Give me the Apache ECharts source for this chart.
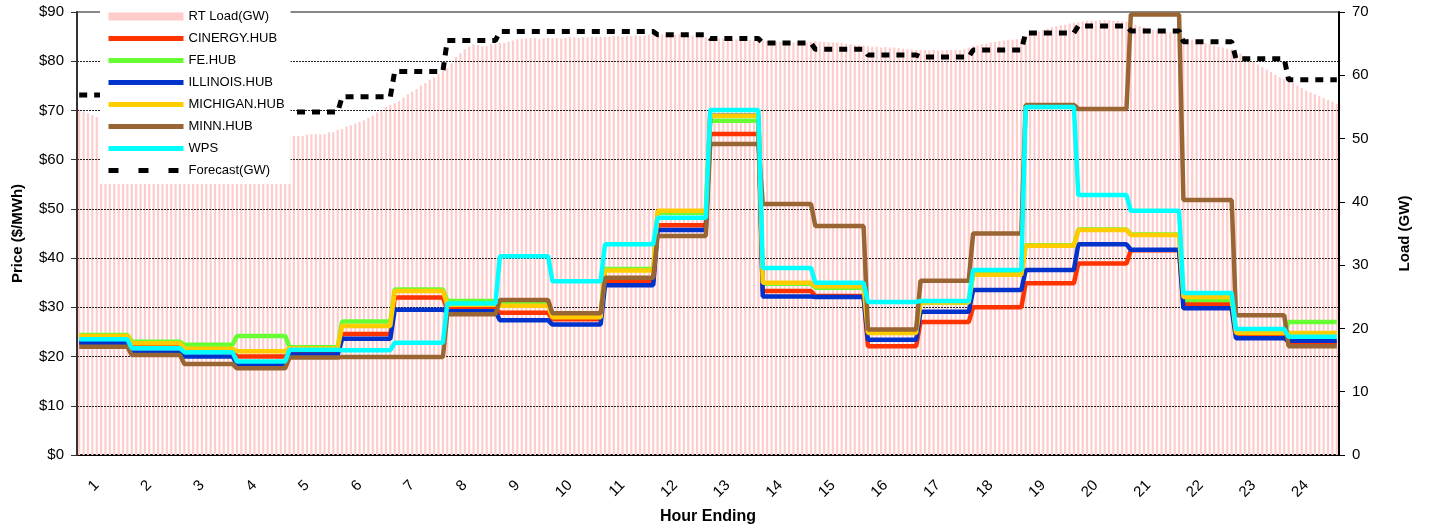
<!DOCTYPE html>
<html>
<head>
<meta charset="utf-8">
<script src="https://cdn.jsdelivr.net/npm/echarts@6/dist/echarts.min.js"></script>
<style>
html, body { margin: 0; padding: 0; background: #fff; }
#chart { width: 1429px; height: 524px; }
</style>
</head>
<body>
<div id="chart"></div>
<script>
// hour ending labels (1..24), each hour split into 12 five-minute intervals
var hours = [1, 2, 3, 4, 5, 6, 7, 8, 9, 10, 11, 12, 13, 14, 15, 16, 17, 18, 19, 20, 21, 22, 23, 24];

// hourly prices ($/MWh)
var cinergy  = [23.0, 22.0, 21.0, 20.0, 20.5, 24.6, 32.0, 29.6, 28.9, 27.6, 35.2, 46.7, 65.2, 33.3, 32.3, 22.1, 27.0, 30.0, 34.9, 38.9, 41.6, 30.7, 24.2, 22.8];
var feHub    = [24.4, 23.0, 22.4, 24.2, 21.9, 27.1, 33.6, 31.3, 30.9, 28.6, 37.8, 49.2, 67.9, 34.8, 34.0, 24.9, 31.0, 37.0, 42.6, 45.8, 44.8, 31.5, 25.0, 27.0];
var illinois = [22.8, 20.8, 20.0, 18.5, 20.4, 23.6, 29.5, 29.2, 27.4, 26.5, 34.5, 45.7, 68.9, 32.2, 32.1, 23.4, 29.1, 33.5, 37.6, 42.8, 41.7, 29.8, 23.7, 23.2];
var michigan = [24.2, 22.7, 21.6, 21.1, 21.7, 26.2, 33.3, 30.5, 30.3, 28.0, 37.5, 49.6, 68.9, 35.0, 34.3, 24.8, 31.0, 36.6, 42.5, 45.7, 44.7, 32.1, 24.8, 24.8];
var minnHub  = [22.0, 20.3, 18.5, 17.6, 19.8, 19.9, 19.9, 28.6, 31.5, 28.8, 36.0, 44.5, 63.2, 51.0, 46.5, 25.5, 35.4, 45.0, 71.1, 70.3, 89.5, 51.8, 28.4, 22.1];
var wps      = [23.5, 21.7, 20.9, 19.0, 21.4, 21.3, 22.8, 30.8, 40.4, 35.3, 42.8, 48.2, 70.1, 38.0, 35.0, 31.1, 31.3, 37.6, 70.7, 52.8, 49.6, 32.9, 25.6, 24.0];

// hourly load forecast (GW)
var forecast = [56.9, 56.0, 55.2, 54.6, 54.2, 56.6, 60.6, 65.5, 66.9, 66.9, 66.9, 66.4, 65.8, 65.1, 64.1, 63.2, 62.9, 64.0, 66.7, 67.8, 67.0, 65.3, 62.6, 59.3];

// real-time load, five-minute intervals (GW)
var rtLoad = [
  54.6, 54.3, 54.0, 53.7, 53.4, 53.1, 52.8, 52.6, 52.4, 52.2, 52.0, 51.8,
  51.6, 51.5, 51.4, 51.3, 51.2, 51.1, 51.0, 50.9, 50.9, 50.8, 50.8, 50.7,
  50.7, 50.6, 50.6, 50.5, 50.5, 50.4, 50.4, 50.4, 50.3, 50.3, 50.3, 50.2,
  50.2, 50.2, 50.1, 50.1, 50.1, 50.1, 50.1, 50.2, 50.2, 50.2, 50.2, 50.3,
  50.3, 50.4, 50.4, 50.4, 50.6, 50.7, 50.7, 50.7, 50.7, 51.0, 51.0, 51.4,
  51.5, 51.9, 52.1, 52.4, 52.6, 52.9, 53.3, 53.6, 54.1, 54.5, 55.0, 55.3,
  55.6, 55.9, 56.5, 57.0, 57.4, 57.8, 58.4, 58.8, 59.3, 59.7, 60.2, 60.7,
  61.1, 61.9, 62.9, 63.5, 64.1, 64.5, 64.9, 64.8, 64.6, 64.6, 64.9, 65.0,
  65.1, 65.1, 65.3, 65.5, 65.7, 65.8, 65.8, 65.9, 65.9, 65.7, 65.8, 65.9,
  65.9, 65.9, 65.8, 65.9, 66.0, 66.0, 65.9, 66.0, 66.0, 66.1, 66.0, 66.1,
  66.1, 66.1, 66.2, 66.2, 66.1, 66.2, 66.2, 66.3, 66.2, 66.3, 66.4, 66.5,
  66.6, 66.5, 66.6, 66.5, 66.4, 66.5, 66.4, 66.3, 66.3, 66.2, 66.1, 66.0,
  65.9, 65.9, 65.8, 65.8, 65.7, 65.7, 65.7, 65.6, 65.6, 65.6, 65.5, 65.5,
  65.4, 65.4, 65.3, 65.3, 65.3, 65.3, 65.2, 65.2, 65.3, 65.2, 65.2, 65.3,
  65.4, 65.3, 65.3, 65.2, 65.2, 65.2, 65.1, 65.0, 64.9, 64.8, 64.8, 64.7,
  64.6, 64.5, 64.5, 64.4, 64.5, 64.4, 64.4, 64.3, 64.2, 64.1, 64.1, 64.0,
  64.0, 64.0, 63.9, 64.0, 63.9, 63.9, 64.0, 64.0, 64.0, 64.0, 64.1, 64.4,
  64.6, 64.7, 64.9, 65.0, 65.2, 65.3, 65.4, 65.5, 65.6, 65.6, 65.7, 65.8,
  66.2, 66.5, 66.7, 66.9, 67.2, 67.4, 67.6, 67.8, 67.9, 68.0, 68.2, 68.3,
  68.4, 68.5, 68.6, 68.6, 68.6, 68.7, 68.7, 68.7, 68.6, 68.6, 68.5, 68.5,
  68.3, 68.0, 67.8, 67.6, 67.4, 67.2, 67.1, 67.0, 66.9, 66.8, 66.7, 66.6,
  66.0, 65.8, 65.6, 65.4, 65.2, 65.1, 64.9, 64.7, 64.5, 64.4, 64.2, 64.1,
  63.8, 63.4, 63.0, 62.5, 62.1, 61.7, 61.3, 60.9, 60.5, 60.1, 59.7, 59.4,
  59.2, 58.8, 58.4, 58.0, 57.6, 57.3, 57.0, 56.7, 56.4, 56.1, 55.8, 55.5
];

// each hourly value holds for the 12 intervals of that hour
function perInterval(arr) {
  var out = [];
  arr.forEach(function (v) { for (var k = 0; k < 12; k++) out.push(v); });
  return out;
}
var categories = perInterval(hours);

var font = 'Arial, "Liberation Sans", sans-serif';

function priceLine(name, data, color) {
  return {
    name: name, type: 'line', data: perInterval(data), yAxisIndex: 0,
    symbol: 'none', z: 3, color: color,
    lineStyle: { width: 4.5, color: color }
  };
}

function legendLine(name) {
  return { name: name, itemStyle: { opacity: 0 }, lineStyle: { width: 5 } };
}

var myChart = echarts.init(document.getElementById('chart'));
var option = {
  animation: false,
  textStyle: { fontFamily: font },
  grid: {
    left: 77, right: 90, top: 12, bottom: 69,
    outerBoundsMode: 'none', containLabel: false,
    show: true, borderColor: '#888', borderWidth: 2, backgroundColor: 'transparent'
  },
  legend: {
    orient: 'vertical', left: 100, top: 4, z: 10,
    padding: [6, 6, 7, 6],
    backgroundColor: '#fff',
    itemWidth: 75, itemHeight: 8, itemGap: 9,
    textStyle: { fontSize: 13, color: '#000', fontFamily: font },
    data: [
      { name: 'RT Load(GW)', icon: 'rect' },
      legendLine('CINERGY.HUB'), legendLine('FE.HUB'), legendLine('ILLINOIS.HUB'),
      legendLine('MICHIGAN.HUB'), legendLine('MINN.HUB'), legendLine('WPS'),
      { name: 'Forecast(GW)', itemStyle: { opacity: 0 }, lineStyle: { width: 5, type: [10, 20] } }
    ]
  },
  xAxis: {
    type: 'category', data: categories, boundaryGap: true,
    name: 'Hour Ending', nameLocation: 'middle', nameGap: 54,
    nameTextStyle: { fontSize: 16, fontWeight: 'bold', color: '#000' },
    axisLine: { lineStyle: { color: '#000', width: 2 } },
    axisTick: { interval: 0, length: 4, lineStyle: { color: '#000' } },
    axisLabel: {
      interval: function (idx) { return idx % 12 === 4; },
      rotate: 45, margin: 28, fontSize: 15, color: '#000'
    },
    splitLine: { show: false }
  },
  yAxis: [
    {
      type: 'value', min: 0, max: 90, interval: 10, position: 'left', z: 2,
      name: 'Price ($/MWh)', nameLocation: 'middle', nameGap: 52, nameRotate: 90,
      nameTextStyle: { fontSize: 15, fontWeight: 'bold', color: '#000' },
      axisLine: { show: true, lineStyle: { color: '#333', width: 2 } },
      axisTick: { show: true, length: 6, lineStyle: { color: '#333' } },
      axisLabel: { margin: 13, fontSize: 15, color: '#000', formatter: function (v) { return '$' + v; } },
      splitLine: { show: true, showMaxLine: false, showMinLine: false, lineStyle: { color: '#222', width: 1, type: [2, 1] } }
    },
    {
      type: 'value', min: 0, max: 70, interval: 10, position: 'right', z: 2,
      name: 'Load (GW)', nameLocation: 'middle', nameGap: 58, nameRotate: 90,
      nameTextStyle: { fontSize: 15, fontWeight: 'bold', color: '#000' },
      axisLine: { show: true, lineStyle: { color: '#000', width: 2 } },
      axisTick: { show: true, length: 6, lineStyle: { color: '#000' } },
      axisLabel: { margin: 13, fontSize: 15, color: '#000' },
      splitLine: { show: false }
    }
  ],
  series: [
    {
      name: 'RT Load(GW)', type: 'bar', data: rtLoad, yAxisIndex: 1,
      barWidth: '50%', z: 1, color: '#ffcccc',
      itemStyle: { color: '#ffcccc' }
    },
    priceLine('CINERGY.HUB', cinergy, '#ff3300'),
    priceLine('FE.HUB', feHub, '#66ff33'),
    priceLine('ILLINOIS.HUB', illinois, '#0033cc'),
    priceLine('MICHIGAN.HUB', michigan, '#ffcc00'),
    priceLine('MINN.HUB', minnHub, '#996633'),
    priceLine('WPS', wps, '#00ffff'),
    {
      name: 'Forecast(GW)', type: 'line', data: perInterval(forecast), yAxisIndex: 1,
      symbol: 'none', z: 4, color: '#000',
      lineStyle: { width: 5, color: '#000', type: [8, 7] }
    }
  ]
};
myChart.setOption(option);
</script>
</body>
</html>
